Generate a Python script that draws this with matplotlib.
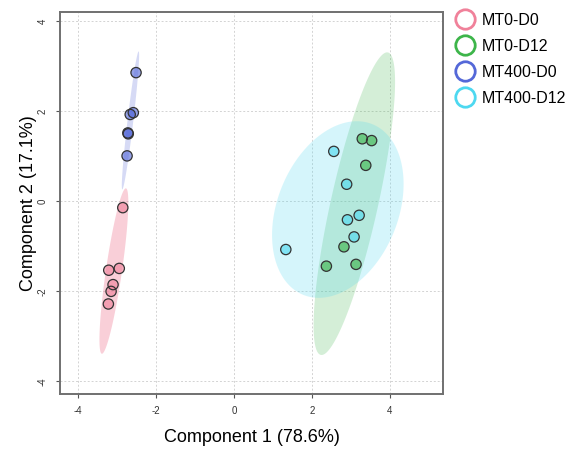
import numpy as np
import matplotlib
matplotlib.use("Agg")
import matplotlib.pyplot as plt
from matplotlib.patches import Polygon
from matplotlib.lines import Line2D

plt.rcParams['font.family'] = ['Liberation Sans', 'DejaVu Sans']

groups = ["MT0-D0", "MT0-D12", "MT400-D0", "MT400-D12"]
edge_colors = ["#F0819A", "#3DB54A", "#5468D8", "#4DD8F0"]
ellipse_alpha = [0.38, 0.22, 0.24, 0.23]

mt0_d0_x = [-2.85, -3.21, -2.94, -3.10, -3.15, -3.22]
mt0_d0_y = [-0.14, -1.53, -1.49, -1.85, -2.00, -2.28]
mt0_d12_x = [3.29, 3.53, 3.38, 2.82, 2.37, 3.13]
mt0_d12_y = [1.39, 1.35, 0.80, -1.01, -1.44, -1.40]
mt400_d0_x = [-2.51, -2.58, -2.66, -2.71, -2.72, -2.74]
mt400_d0_y = [2.86, 1.97, 1.93, 1.50, 1.52, 1.01]
mt400_d12_x = [2.56, 2.89, 3.21, 2.91, 3.08, 1.33]
mt400_d12_y = [1.11, 0.38, -0.31, -0.41, -0.79, -1.07]

xs = [mt0_d0_x, mt0_d12_x, mt400_d0_x, mt400_d12_x]
ys = [mt0_d0_y, mt0_d12_y, mt400_d0_y, mt400_d12_y]

xticks = [-4, -2, 0, 2, 4]
yticks = [-4, -2, 0, 2, 4]

fig = plt.figure(figsize=(5.68, 4.49), dpi=100)
ax = fig.add_axes([60/568, 1-394/449, (443-60)/568, (394-12.3)/449])

t = np.sqrt(-2*np.log(1-0.95))  # sqrt(qchisq(0.95, 2))
theta = np.linspace(0, 2*np.pi, 200)
for gx, gy, c, a in zip(xs, ys, edge_colors, ellipse_alpha):
    pts = np.column_stack([gx, gy])
    mu = pts.mean(axis=0)
    cov = np.cov(pts.T)
    vals, vecs = np.linalg.eigh(cov)
    circ = np.column_stack([np.cos(theta), np.sin(theta)])
    ell = mu + t * (circ * np.sqrt(vals)) @ vecs.T
    ax.add_patch(Polygon(ell, closed=True, facecolor=c, alpha=a,
                         edgecolor='none', zorder=1))

for gx, gy, c in zip(xs, ys, edge_colors):
    ax.scatter(gx, gy, s=55, facecolor=c, alpha=0.62, edgecolor='none', zorder=3)
    ax.scatter(gx, gy, s=55, facecolor='none', edgecolor='#333333', linewidth=0.9, zorder=4)

ax.set_xlim(-4.46, 5.36)
ax.set_ylim(-4.28, 4.2)
ax.set_xticks(xticks)
ax.set_yticks(yticks)
ax.set_xticklabels([str(v) for v in xticks], fontsize=7, color='#333333')
ax.set_yticklabels([str(v) for v in yticks], fontsize=7, color='#333333',
                   rotation=90, va='center')
ax.tick_params(axis='both', length=3, width=0.8, color='#555555', pad=6)
ax.grid(True, linestyle=(0, (2, 2)), color='#D3D3D3', linewidth=0.7, zorder=0)
ax.set_axisbelow(True)
for sp in ax.spines.values():
    sp.set_color('#707070')
    sp.set_linewidth(1.4)

ax.set_xlabel("Component 1 (78.6%)", fontsize=13, labelpad=9)
ax.set_ylabel("Component 2 (17.1%)", fontsize=13, labelpad=0)

handles = [Line2D([0], [0], marker='o', linestyle='none', markersize=14,
                  markerfacecolor='none', markeredgecolor=c, markeredgewidth=2)
           for c in edge_colors]
fig.legend(handles, groups, loc='upper left', bbox_to_anchor=(452/568, 1-13/449),
           frameon=False, fontsize=11.5, handletextpad=0.25, labelspacing=0.68,
           borderaxespad=0, borderpad=0, handlelength=1.6)

fig.savefig("out.png", dpi=100)
